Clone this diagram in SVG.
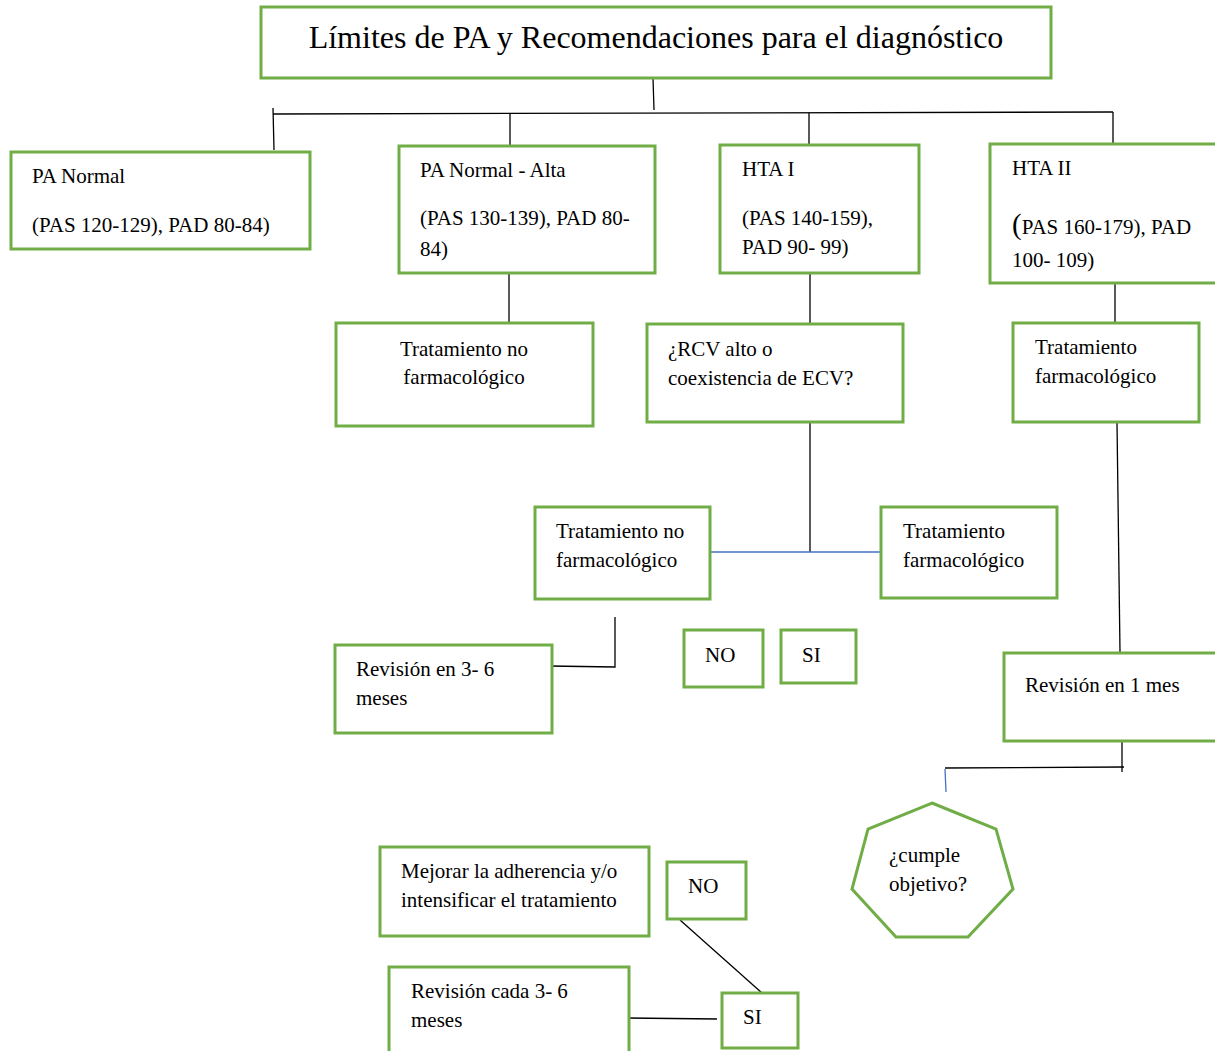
<svg xmlns="http://www.w3.org/2000/svg" width="1215" height="1051" viewBox="0 0 1215 1051">
<style>
.box{fill:#fff;stroke:#70AD47;stroke-width:3}
.t{font-family:"Liberation Serif","Times New Roman",serif;font-size:21px;fill:#000}
.title{font-size:32px}
.c{stroke:#000;stroke-width:1.3;fill:none}
.b{stroke:#4472C4;stroke-width:1.3;fill:none}
</style>
<rect width="1215" height="1051" fill="#fff"/>
<g id="connectors">
<line class="c" x1="653" y1="78" x2="654" y2="110"/>
<line class="c" x1="273" y1="114" x2="1113" y2="112" stroke-width="2"/>
<line class="c" x1="273" y1="108" x2="274" y2="150"/>
<line class="c" x1="510" y1="113" x2="510" y2="145"/>
<line class="c" x1="809" y1="113" x2="809" y2="144"/>
<line class="c" x1="1113" y1="112" x2="1113" y2="143"/>
<line class="c" x1="509" y1="273" x2="509" y2="323"/>
<line class="c" x1="810" y1="273" x2="810" y2="324"/>
<line class="c" x1="1115" y1="283" x2="1115" y2="323"/>
<line class="c" x1="810" y1="422" x2="810" y2="552"/>
<line class="b" x1="709" y1="552" x2="888" y2="552"/>
<polyline class="c" points="615,617 615,667 549,666"/>
<line class="c" x1="1117" y1="422" x2="1120" y2="652"/>
<line class="c" x1="1122" y1="741" x2="1122" y2="772"/>
<line class="c" x1="945" y1="768" x2="1124" y2="767"/>
<line class="b" x1="945" y1="769" x2="946" y2="792"/>
<line class="c" x1="680" y1="920" x2="762" y2="993"/>
<line class="c" x1="627" y1="1018" x2="717" y2="1019"/>
</g>
<g id="title">
<rect class="box" x="261" y="7" width="790" height="71"/>
<text class="t title" x="656" y="48" text-anchor="middle">Límites de PA y Recomendaciones para el diagnóstico</text>
</g>
<g id="pa-normal">
<rect class="box" x="11" y="152" width="299" height="97"/>
<text class="t" x="32" y="183">PA Normal</text>
<text class="t" x="32" y="232">(PAS 120-129), PAD 80-84)</text>
</g>
<g id="pa-normal-alta">
<rect class="box" x="399" y="146" width="256" height="127"/>
<text class="t" x="420" y="177">PA Normal - Alta</text>
<text class="t" x="420" y="225">(PAS 130-139), PAD 80-</text>
<text class="t" x="420" y="256">84)</text>
</g>
<g id="hta1">
<rect class="box" x="720" y="145" width="199" height="128"/>
<text class="t" x="742" y="176">HTA I</text>
<text class="t" x="742" y="225">(PAS 140-159),</text>
<text class="t" x="742" y="254">PAD 90- 99)</text>
</g>
<g id="hta2">
<rect class="box" x="990" y="144" width="240" height="139"/>
<text class="t" x="1012" y="175">HTA II</text>
<text class="t" x="1012" y="234"><tspan style="font-size:29px">(</tspan>PAS 160-179), PAD</text>
<text class="t" x="1012" y="267">100- 109)</text>
</g>
<g id="trat-no-farm-1">
<rect class="box" x="336" y="323" width="257" height="103"/>
<text class="t" x="464" y="356" text-anchor="middle">Tratamiento no</text>
<text class="t" x="464" y="384" text-anchor="middle">farmacológico</text>
</g>
<g id="rcv">
<rect class="box" x="647" y="324" width="256" height="98"/>
<text class="t" x="668" y="356">¿RCV alto o</text>
<text class="t" x="668" y="385">coexistencia de ECV?</text>
</g>
<g id="trat-farm-1">
<rect class="box" x="1013" y="323" width="186" height="99"/>
<text class="t" x="1035" y="354">Tratamiento</text>
<text class="t" x="1035" y="383">farmacológico</text>
</g>
<g id="trat-no-farm-2">
<rect class="box" x="535" y="507" width="175" height="92"/>
<text class="t" x="556" y="538">Tratamiento no</text>
<text class="t" x="556" y="567">farmacológico</text>
</g>
<g id="trat-farm-2">
<rect class="box" x="881" y="507" width="176" height="91"/>
<text class="t" x="903" y="538">Tratamiento</text>
<text class="t" x="903" y="567">farmacológico</text>
</g>
<g id="no-1">
<rect class="box" x="684" y="630" width="79" height="57"/>
<text class="t" x="705" y="662">NO</text>
</g>
<g id="si-1">
<rect class="box" x="781" y="630" width="75" height="53"/>
<text class="t" x="802" y="662">SI</text>
</g>
<g id="revision-3-6">
<rect class="box" x="335" y="645" width="217" height="88"/>
<text class="t" x="356" y="676">Revisión en 3- 6</text>
<text class="t" x="356" y="705">meses</text>
</g>
<g id="revision-1-mes">
<rect class="box" x="1004" y="653" width="230" height="88"/>
<text class="t" x="1025" y="692">Revisión en 1 mes</text>
</g>
<g id="cumple">
<polygon class="box" points="932,803 996,829 1013,889 968,937 896,937 852,889 868,829"/>
<text class="t" x="889" y="862">¿cumple</text>
<text class="t" x="889" y="891">objetivo?</text>
</g>
<g id="mejorar">
<rect class="box" x="380" y="847" width="269" height="89"/>
<text class="t" x="401" y="878">Mejorar la adherencia y/o</text>
<text class="t" x="401" y="907">intensificar el tratamiento</text>
</g>
<g id="no-2">
<rect class="box" x="667" y="862" width="79" height="57"/>
<text class="t" x="688" y="893">NO</text>
</g>
<g id="si-2">
<rect class="box" x="722" y="993" width="76" height="55"/>
<text class="t" x="743" y="1024">SI</text>
</g>
<g id="revision-cada">
<rect class="box" x="389" y="967" width="240" height="90"/>
<text class="t" x="411" y="998">Revisión cada 3- 6</text>
<text class="t" x="411" y="1027">meses</text>
</g>
</svg>
